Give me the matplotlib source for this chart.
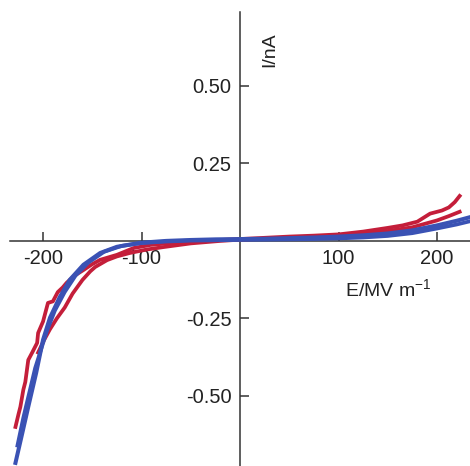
import matplotlib
matplotlib.use('Agg')
import matplotlib.pyplot as plt

# ── Data: I–V sweeps (E in MV/m, I in nA) ─────────────────────────────────
blue1_E = [-228, -221, -215, -207, -200, -193, -183, -173, -159, -142, -125, -101,
           -75, -50, -25, 0, 25, 50, 75, 100, 125, 150, 175, 200, 220, 234]
blue1_I = [-0.716, -0.619, -0.535, -0.426, -0.319, -0.248, -0.181, -0.126, -0.077,
           -0.039, -0.019, -0.006, 0.0, 0.003, 0.005, 0.006, 0.007, 0.009, 0.011,
           0.014, 0.018, 0.024, 0.034, 0.050, 0.065, 0.077]

blue2_E = [-226, -220, -214, -208, -202, -196, -188, -178, -167, -154, -138, -120,
           -100, -75, -50, -25, 0, 25, 50, 75, 100, 125, 150, 175, 200, 220, 233]
blue2_I = [-0.66, -0.57, -0.49, -0.41, -0.35, -0.29, -0.225, -0.165, -0.112, -0.07,
           -0.035, -0.016, -0.007, -0.002, 0.001, 0.002, 0.003, 0.004, 0.005, 0.006,
           0.008, 0.011, 0.016, 0.025, 0.040, 0.053, 0.063]

red1_E = [-228, -225, -223, -220, -218, -215, -211, -206, -205, -200, -195, -190,
          -185, -180, -176, -168, -159, -150, -142, -125, -108, -91, -60, -20, 0,
          25, 50, 75, 100, 125, 150, 165, 180, 193, 205, 212, 218, 223]
red1_I = [-0.600, -0.560, -0.535, -0.480, -0.455, -0.384, -0.360, -0.329, -0.297,
          -0.260, -0.200, -0.195, -0.165, -0.150, -0.135, -0.112, -0.094, -0.075,
          -0.061, -0.045, -0.023, -0.013, -0.004, 0.003, 0.006, 0.010, 0.014,
          0.017, 0.021, 0.030, 0.042, 0.050, 0.062, 0.088, 0.098, 0.108, 0.125, 0.145]

red2_E = [-205, -199, -193, -186, -178, -170, -160, -152, -147, -135, -125, -112,
          -95, -78, -50, -20, 0, 25, 50, 75, 100, 125, 150, 175, 200, 212, 223]
red2_I = [-0.360, -0.320, -0.285, -0.250, -0.215, -0.170, -0.126, -0.098, -0.084,
          -0.062, -0.050, -0.039, -0.028, -0.020, -0.008, 0.0, 0.004, 0.007, 0.010,
          0.013, 0.017, 0.024, 0.032, 0.044, 0.066, 0.080, 0.094]

x_ticks = [-200, -100, 100, 200]
y_ticks = [-0.50, -0.25, 0.25, 0.50]

RED = '#C41E3A'
BLUE = '#3A52B4'

plt.rcParams['font.family'] = ['Liberation Sans', 'DejaVu Sans']
plt.rcParams['axes.unicode_minus'] = False
plt.rcParams['mathtext.fontset'] = 'custom'
plt.rcParams['mathtext.rm'] = 'Liberation Sans'

fig = plt.figure(figsize=(4.70, 4.66), dpi=100)
fig.patch.set_facecolor('white')
ax = fig.add_axes([0, 0, 1, 1])

ax.plot(red1_E, red1_I, color=RED, lw=2.7, zorder=2)
ax.plot(red2_E, red2_I, color=RED, lw=2.7, zorder=2)
ax.plot(blue1_E, blue1_I, color=BLUE, lw=2.9, zorder=3)
ax.plot(blue2_E, blue2_I, color=BLUE, lw=2.7, zorder=3)

ax.set_xlim(-243.7, 233.5)
ax.set_ylim(-0.726, 0.777)

# axes crossing at the origin
for side in ['top', 'right']:
    ax.spines[side].set_visible(False)
ax.spines['left'].set_position(('data', 0))
ax.spines['bottom'].set_position(('data', 0))
ax.spines['bottom'].set_bounds(-233.5, 233.5)
ax.spines['left'].set_bounds(-0.726, 0.739)
for side in ['left', 'bottom']:
    ax.spines[side].set_color('#333333')
    ax.spines[side].set_linewidth(1.1)
    ax.spines[side].set_zorder(1)

ax.set_xticks(x_ticks)
ax.set_xticklabels([f'{v:d}' for v in x_ticks])
ax.set_yticks(y_ticks)
ax.set_yticklabels([f'{v:.2f}' for v in y_ticks])
ax.tick_params(direction='in', length=6.5, width=1.1, color='#333333',
               labelsize=14.5, labelcolor='#222222', pad=6)

ax.text(30.5, 0.616, 'I/nA', rotation=90, ha='center', va='center',
        fontsize=14, color='#222222')
ax.text(150, -0.158, r'E/MV m$^{\mathrm{-1}}$', ha='center', va='center',
        fontsize=14, color='#222222')

fig.savefig('out.png', dpi=100, facecolor='white')
plt.close()
